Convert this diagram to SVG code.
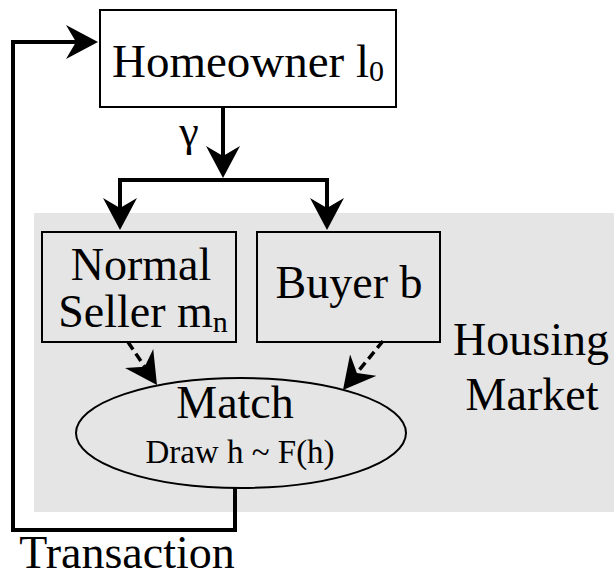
<svg xmlns="http://www.w3.org/2000/svg" width="614" height="578" viewBox="0 0 614 578">
<style>
.box{fill:none;stroke:#000;stroke-width:2}
.t{font-family:'Liberation Serif','DejaVu Serif','Noto Serif',serif;fill:#000;text-anchor:middle}
.c{fill:none;stroke:#000;stroke-width:4}
.d{fill:none;stroke:#000;stroke-width:3.5;stroke-dasharray:9,5}
</style>
<defs>
<marker id="ah" viewBox="0 0 32 34" refX="10" refY="17" markerWidth="32" markerHeight="34" markerUnits="userSpaceOnUse" orient="auto">
<path d="M0,0 L32,17 L0,34 L10,17 Z" fill="#000"/>
</marker>
</defs>
<rect x="0" y="0" width="614" height="578" fill="#fff"/>
<g id="market">
<rect x="34" y="213" width="580" height="299" fill="#e5e5e5"/>
<text class="t" font-family="Liberation Serif, serif" x="531" y="355" font-size="46">Housing</text>
<text class="t" font-family="Liberation Serif, serif" x="532" y="410" font-size="46">Market</text>
</g>
<g id="homeowner">
<rect class="box" x="100" y="10" width="296" height="97" fill="#fff"/>
<text class="t" font-family="Liberation Serif, serif" x="248" y="77" font-size="47">Homeowner l<tspan font-size="30" dy="4">0</tspan></text>
</g>
<g id="seller">
<rect class="box" x="42" y="232" width="194" height="110"/>
<text class="t" font-family="Liberation Serif, serif" x="141" y="280" font-size="46">Normal</text>
<text class="t" font-family="Liberation Serif, serif" x="143" y="327" font-size="46">Seller m<tspan font-size="30" dy="5">n</tspan></text>
</g>
<g id="buyer">
<rect class="box" x="257" y="232" width="183" height="110"/>
<text class="t" font-family="Liberation Serif, serif" x="349" y="298" font-size="46">Buyer b</text>
</g>
<g id="match">
<ellipse cx="241" cy="433" rx="165" ry="55" fill="none" stroke="#000" stroke-width="2"/>
<text class="t" font-family="Liberation Serif, serif" x="235" y="418" font-size="46">Match</text>
<text class="t" font-family="Liberation Serif, serif" x="240" y="463" font-size="33">Draw h ~ F(h)</text>
</g>
<g id="connectors">
<path class="c" d="M223,107 V156" marker-end="url(#ah)"/>
<path class="c" d="M223,180 H120 V208" marker-end="url(#ah)"/>
<path class="c" d="M223,180 H327 V208" marker-end="url(#ah)"/>
<path class="c" d="M235,488 V530 H13 V42 H76" marker-end="url(#ah)"/>
<path class="d" d="M128,342 L144.7,366.8" marker-end="url(#ah)"/>
<path class="d" d="M383,341 L356.9,372.9" marker-end="url(#ah)"/>
<text class="t" font-family="Liberation Serif, serif" x="189" y="146" font-size="44">γ</text>
<text class="t" font-family="Liberation Serif, serif" x="127" y="568" font-size="46">Transaction</text>
</g>
</svg>
